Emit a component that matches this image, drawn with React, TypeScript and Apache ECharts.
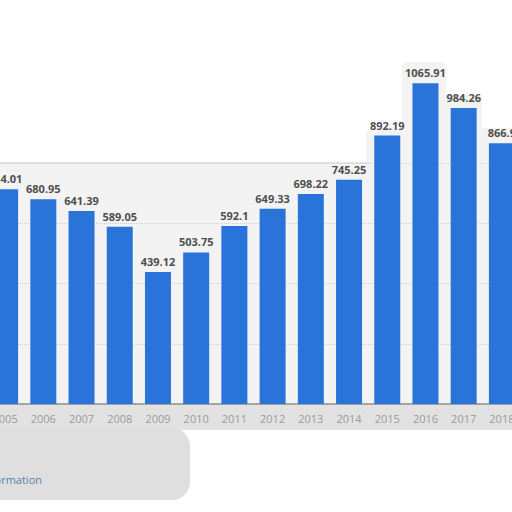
import { useEffect, useRef } from "react";
import * as echarts from "echarts";

const YEARS = ["2005", "2006", "2007", "2008", "2009", "2010", "2011", "2012", "2013", "2014", "2015", "2016", "2017", "2018"];
const VALUES = [714.01, 680.95, 641.39, 589.05, 439.12, 503.75, 592.1, 649.33, 698.22, 745.25, 892.19, 1065.91, 984.26, 866.9];
const Y_MAX = 1200;
const Y_STEP = 200;

const BAR_COLOR = "#2a74d9";
// the chart is a crop: its canvas starts a little left of the page
const SHIFT = 14;
const CHART_W = 535;

export default function App() {
    const ref = useRef<HTMLDivElement>(null);

    useEffect(() => {
        if (!ref.current) return;
        const chart = echarts.init(ref.current, undefined, { renderer: "svg" });
        const x = (v: number) => v + SHIFT;

        chart.setOption({
            animation: false,
            backgroundColor: "#ffffff",
            textStyle: { fontFamily: "Open Sans" },
            graphic: [
                // faded panel behind the plot
                { type: "rect", z: -10, shape: { x: 0, y: 163, width: CHART_W, height: 241 }, style: { fill: "#f3f3f3" } },
                { type: "line", z: -9, shape: { x1: 0, y1: 163, x2: x(370), y2: 163 }, style: { stroke: "#dcdcdc", lineWidth: 1.5 } },
                { type: "rect", z: -10, shape: { x: x(366), y: 128, width: 170, height: 40, r: 6 }, style: { fill: "#f3f3f3" } },
                { type: "rect", z: -10, shape: { x: x(402), y: 62, width: 44, height: 70, r: 6 }, style: { fill: "#f3f3f3" } },
                { type: "rect", z: -10, shape: { x: x(442), y: 95, width: 40, height: 40, r: 6 }, style: { fill: "#f3f3f3" } },
                // band under the axis and blurred footer block
                { type: "rect", z: -10, shape: { x: 0, y: 404, width: CHART_W, height: 26 }, style: { fill: "#e2e2e2" } },
                { type: "rect", z: -10, shape: { x: 0, y: 428, width: x(190), height: 72, r: [0, 18, 18, 0] }, style: { fill: "#dfdfdf" } },
                {
                    type: "text",
                    z: 10,
                    x: x(42),
                    y: 479,
                    style: {
                        text: "Additional Information",
                        fill: "#5b7fa6",
                        font: "11px 'Open Sans'",
                        textAlign: "right",
                        textVerticalAlign: "middle",
                    },
                },
            ],
            grid: { left: 0, right: 0, top: 43, bottom: 108, containLabel: false },
            xAxis: {
                type: "category",
                data: YEARS,
                axisLine: { lineStyle: { color: "#8c8c8c", width: 1.5 } },
                axisTick: { show: false },
                axisLabel: { color: "#9a9a9a", fontSize: 11, margin: 9, interval: 0 },
            },
            yAxis: {
                type: "value",
                min: 0,
                max: Y_MAX,
                interval: Y_STEP,
                axisLabel: { show: false },
                axisLine: { show: false },
                axisTick: { show: false },
                splitLine: {
                    lineStyle: {
                        type: "dotted",
                        color: ["transparent", "#cfcfcf", "#cfcfcf", "#cfcfcf", "#d6d6d6", "transparent", "transparent"],
                    },
                },
            },
            series: [{
                type: "bar",
                data: VALUES,
                barWidth: 26,
                itemStyle: { color: BAR_COLOR },
                label: {
                    show: true,
                    position: "top",
                    distance: 5,
                    color: "#4f4f4f",
                    fontSize: 11,
                    fontWeight: "bold",
                    formatter: (p: { value: number }) => String(p.value),
                },
            }],
        });

        return () => { chart.dispose(); };
    }, []);

    return (
        <div style={{ position: "fixed", left: 0, top: 0, width: 512, height: 512, overflow: "hidden" }}>
            <div ref={ref} style={{ position: "absolute", left: -SHIFT, top: 0, width: CHART_W, height: 512 }} />
        </div>
    );
}
